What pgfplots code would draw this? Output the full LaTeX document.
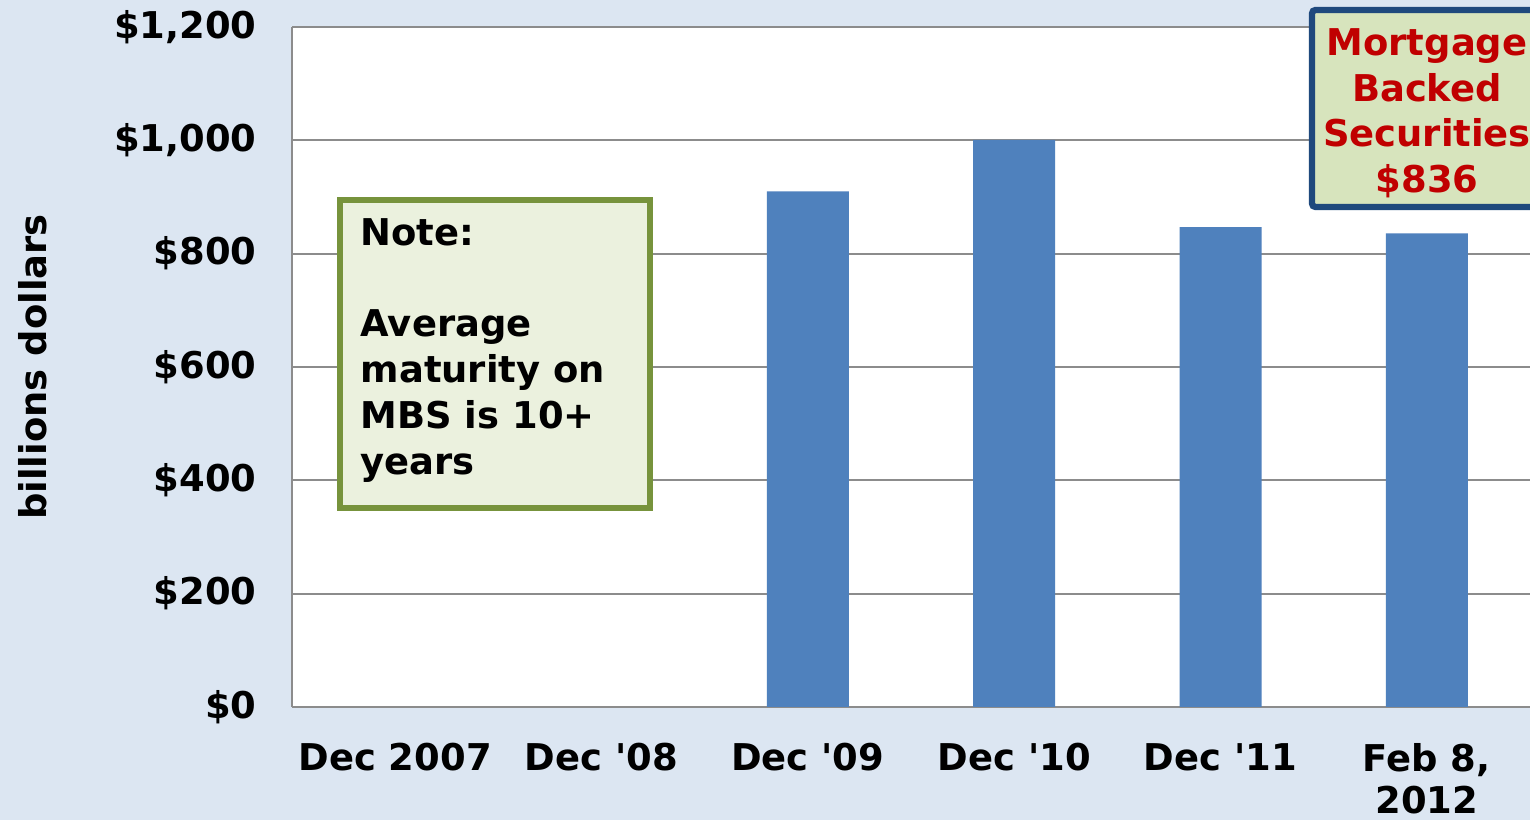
\documentclass[border=0pt]{standalone}
\usepackage{pgfplots}
\pgfplotsset{compat=1.18}
\usepackage{fontspec}
\setmainfont{DejaVu Sans}[Ligatures=TeXOff]
\definecolor{bgblue}{HTML}{DCE6F2}
\definecolor{barblue}{HTML}{4F81BD}
\definecolor{notefill}{HTML}{EBF1DE}
\definecolor{notedraw}{HTML}{77933C}
\definecolor{mbsfill}{HTML}{D7E4BD}
\definecolor{mbsdraw}{HTML}{1F497D}
\definecolor{mbsred}{HTML}{C00000}
\definecolor{gridgray}{HTML}{8C8C8C}
\newcommand{\cfont}{\bfseries\fontsize{10.5}{13}\selectfont}
\begin{document}
\begin{tikzpicture}
\useasboundingbox (0,0) rectangle (15.3cm,8.2cm);
\clip (0,0) rectangle (15.3cm,8.2cm);
\fill[bgblue] (0,0) rectangle (15.3cm,8.2cm);
\begin{axis}[
  at={(2.92cm,1.13cm)}, anchor=south west,
  width=12.38cm, height=6.8cm, scale only axis,
  xmin=-0.5, xmax=5.5, ymin=0, ymax=1200,
  axis background/.style={fill=white},
  axis x line=bottom, axis y line=left,
  axis line style={-, gridgray, line width=0.6pt},
  ymajorgrids, grid style={gridgray, line width=0.6pt},
  major tick length=0pt,
  xtick={0,1,2,3,4,5},
  xticklabels={Dec 2007, Dec '08, Dec '09, Dec '10, Dec '11, {Feb 8,\\[-1pt]2012}},
  ytick={0,200,400,600,800,1000,1200},
  yticklabels={\$0,\$200,\$400,\$600,\$800,{\$1,000},{\$1,200}},
  xticklabel style={font=\cfont, align=center, yshift=-0.24cm},
  yticklabel style={font=\cfont, xshift=-0.23cm},
]
\addplot[ybar, fill=barblue, draw=none, bar width=0.82cm]
  coordinates {(2,910) (3,1001) (4,847) (5,836)};
\end{axis}
\node[rotate=90, font=\cfont] at (0.33cm,4.53cm) {billions dollars};
% Note box
\draw[notedraw, fill=notefill, line width=1.6pt] (3.40cm,6.20cm) rectangle (6.50cm,3.12cm);
\node[anchor=north west, align=left, inner sep=0pt, font=\cfont] at (3.60cm,6.02cm)
  {Note:\\[13pt]Average\\maturity on\\MBS is 10+\\years};
% MBS box
\draw[mbsdraw, fill=mbsfill, line width=1.8pt, rounded corners=1pt] (13.12cm,8.10cm) rectangle (15.42cm,6.13cm);
\node[anchor=north, align=center, inner sep=0pt, font=\cfont, text=mbsred] at (14.27cm,7.92cm)
  {Mortgage\\Backed\\Securities\\\$836};
\end{tikzpicture}
\end{document}
